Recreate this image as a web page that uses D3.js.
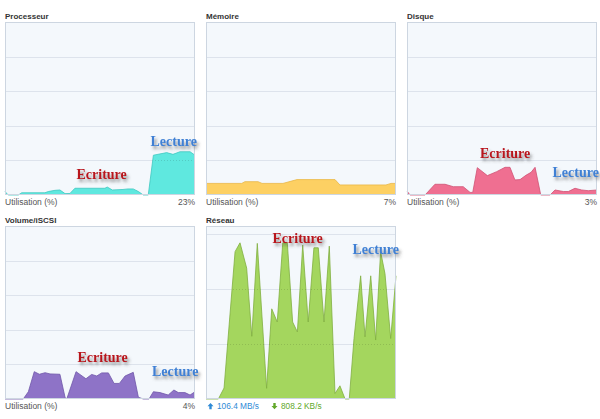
<!DOCTYPE html>
<html><head><meta charset="utf-8">
<script src="https://cdn.jsdelivr.net/npm/d3@7"></script>
<style>
html,body{margin:0;padding:0;background:#fff;}
svg{display:block;}
</style></head>
<body>
<svg id="chart" width="600" height="419"></svg>
<script>
// ---- Data (time in seconds over a 100 s window, values in % or MB/s) ----
const cpuTime = [0,1.7,7,8.8,21,22.8,26.3,28.9,31.6,34.2,36.8,52.6,53.8,56.5,62.1,64.7,67.5,70.2,72.8,75.4,78.1,85.1,88.4,92.1,97.4,100];
const cpuValues = [2,0,0,1.3,1.3,2,2.7,2.9,0.8,0.9,3.9,3.9,4.6,2.9,3.2,3.5,3.5,2,0,0,23,24.5,23.5,25,25,23];

const memTime = [0,18.8,20.5,27.4,29.5,40.5,43.2,47.9,67.9,70.5,94.7,97.4,100];
const memValues = [6.7,6.7,7.7,7.7,6.7,6.7,7.5,8.9,8.9,5.8,5.8,6.7,6.7];

const diskTime = [0,1.6,9.5,14.7,20,24.4,29.6,33.2,34.6,37,42.3,47.2,51.6,54.2,56.8,59.5,62.6,65.3,67.4,70.4,75.3,77.9,82.3,84.9,88.4,91.9,95.4,100];
const diskValues = [2.3,0,0,6.2,6.2,4.8,4.8,1.5,1.5,15.8,11.2,13.5,16,16,8.7,8.9,11.4,13.1,16,0,0,2.9,2,2,3.9,2.9,2.5,2.9];

const volTime = [0,9.6,12.3,15.4,18.1,21.1,23.7,28.9,31.6,32.5,37.4,42.6,45.6,48.3,50.9,54.4,57.4,60.2,63.2,67.5,70.2,72.8,75.8,78.1,81.6,85.9,88.9,91.2,94.7,97.4,100];
const volValues = [0,0,4.2,15.8,14.3,15.2,14.5,14.3,1,0,15.8,11.7,14.2,13.3,15.1,15.1,9,9,13.3,15.4,1,0,0,4.2,3.7,2.3,5.2,3.7,3.7,2.3,4.2];

const netTime = [0,6.5,9.5,15.3,17.9,21.4,24.1,27,31.9,34.6,37.5,40.4,42.8,45.6,48.1,50.9,53.8,56.8,59.1,62.1,64.9,67.9,70.5,73.2,75.4,77.9,81.4,83.7,86.7,89.3,91.9,94.2,97.2,100];
const netValues = [0,0,10,134,142,119,57,141.5,9.7,82,70,142,142,70,61,140,70,137.5,137.5,70,139,5,12,0,0,55,112,56.5,112,53.6,134,114,55,112];

const panelTitles = ["Processeur","Mémoire","Disque","Volume/iSCSI","Réseau"];
const footerLabel = "Utilisation (%)";
const currentValues = ["23%","7%","3%","4%"];
const netUp = "106.4 MB/s";
const netDown = "808.2 KB/s";
const pctTicks = [20,40,60,80];
const netTicks = [50,100,150];
const annoWrite = "Ecriture";
const annoRead = "Lecture";

// ---- Layout ----
const svg = d3.select("#chart");
const defs = svg.append("defs");
const f = defs.append("filter").attr("id","shadow").attr("x","-20%").attr("y","-30%").attr("width","150%").attr("height","180%");
f.append("feDropShadow").attr("dx",2).attr("dy",3).attr("stdDeviation",1.6).attr("flood-color","#444").attr("flood-opacity",0.55);

const W = 190, H = 173;
const panels = [
  {title:panelTitles[0], x:5,   y:22,  t:cpuTime,  v:cpuValues,  max:100, ticks:pctTicks, fill:"#5fe8df", stroke:"#3fc8c0", cur:currentValues[0],
   write:[76.5,178.5], read:[150.5,145.5]},
  {title:panelTitles[1], x:206, y:22,  t:memTime,  v:memValues,  max:100, ticks:pctTicks, fill:"#fdd063", stroke:"#e9b645", cur:currentValues[1]},
  {title:panelTitles[2], x:407, y:22,  t:diskTime, v:diskValues, max:100, ticks:pctTicks, fill:"#ef6f91", stroke:"#cf5274", cur:currentValues[2],
   write:[480,157.5], read:[552.5,177]},
  {title:panelTitles[3], x:5,   y:226, t:volTime,  v:volValues,  max:100, ticks:pctTicks, fill:"#8e73c7", stroke:"#6f55a8", cur:currentValues[3],
   write:[77.5,362], read:[152,376]},
  {title:panelTitles[4], x:206, y:226, t:netTime,  v:netValues,  max:157.3, ticks:netTicks, fill:"#a4d65e", stroke:"#80ae40", net:true,
   write:[272.5,243], read:[352.5,253.5]}
];

panels.forEach((p,i) => {
  const g = svg.append("g").attr("transform",`translate(${p.x},${p.y})`);
  const x = d3.scaleLinear().domain([0,100]).range([0,W]);
  const y = d3.scaleLinear().domain([0,p.max]).range([H,0]);

  // title
  g.append("text").attr("x",0).attr("y",-3).text(p.title)
    .attr("font-family","Liberation Sans, Arial, sans-serif").attr("font-size",8).attr("font-weight","bold").attr("fill","#333");

  // background
  g.append("rect").attr("width",W).attr("height",H).attr("fill","#f4f8fc");

  // grid
  g.selectAll("line.grid").data(p.ticks).join("line").attr("class","grid")
    .attr("x1",0).attr("x2",W).attr("y1",d=>Math.round(y(d))+0.5).attr("y2",d=>Math.round(y(d))+0.5)
    .attr("stroke","#dde3ec").attr("stroke-width",1);

  const data = p.t.map((t,k)=>[t,p.v[k]]);
  const area = d3.area().x(d=>x(d[0])).y0(H).y1(d=>y(d[1]));
  const line = d3.line().x(d=>x(d[0])).y(d=>y(d[1]));
  defs.append("clipPath").attr("id","clip"+i).append("path").datum(data).attr("d",area);
  g.append("path").datum(data).attr("d",area).attr("fill",p.fill);
  g.append("path").datum(data).attr("d",line).attr("fill","none").attr("stroke",p.stroke).attr("stroke-width",0.8);

  // dotted grid overlay inside the filled area
  g.append("g").attr("clip-path",`url(#clip${i})`)
    .selectAll("line").data(p.ticks).join("line")
    .attr("x1",0).attr("x2",W).attr("y1",d=>Math.round(y(d))+0.5).attr("y2",d=>Math.round(y(d))+0.5)
    .attr("stroke","#000").attr("stroke-opacity",0.12).attr("stroke-dasharray","1,2");

  // frame
  g.append("rect").attr("x",0.5).attr("y",0.5).attr("width",W-1).attr("height",H-1)
    .attr("fill","none").attr("stroke","#cdd6e1");

  // footer
  if (!p.net) {
    g.append("text").attr("x",0).attr("y",H+10).text(footerLabel)
      .attr("font-family","Liberation Sans, Arial, sans-serif").attr("font-size",8.5).attr("fill","#555");
    g.append("text").attr("x",W).attr("y",H+10).attr("text-anchor","end").text(p.cur)
      .attr("font-family","Liberation Sans, Arial, sans-serif").attr("font-size",8.5).attr("fill","#555");
  } else {
    g.append("path").attr("d",`M${4.5},${H+4} l3,3.2 h-1.8 v3 h-2.4 v-3 h-1.8 z`).attr("fill","#2f8ad6");
    g.append("text").attr("x",11).attr("y",H+10).text(netUp)
      .attr("font-family","Liberation Sans, Arial, sans-serif").attr("font-size",8.3).attr("fill","#2f8ad6");
    g.append("path").attr("d",`M${68.5},${H+10.2} l3,-3.2 h-1.8 v-3 h-2.4 v3 h-1.8 z`).attr("fill","#62a82a");
    g.append("text").attr("x",75).attr("y",H+10).text(netDown)
      .attr("font-family","Liberation Sans, Arial, sans-serif").attr("font-size",8.3).attr("fill","#62a82a");
  }
});

// annotations
panels.forEach(p => {
  if (p.write) {
    svg.append("text").attr("x",p.write[0]).attr("y",p.write[1]).text(annoWrite)
      .attr("font-family","Liberation Serif, Times New Roman, serif").attr("font-size",14).attr("font-weight","bold")
      .attr("fill","#b8141c").attr("filter","url(#shadow)");
  }
  if (p.read) {
    svg.append("text").attr("x",p.read[0]).attr("y",p.read[1]).text(annoRead)
      .attr("font-family","Liberation Serif, Times New Roman, serif").attr("font-size",14).attr("font-weight","bold")
      .attr("fill","#3f80d4").attr("filter","url(#shadow)");
  }
});
</script>
</body></html>
